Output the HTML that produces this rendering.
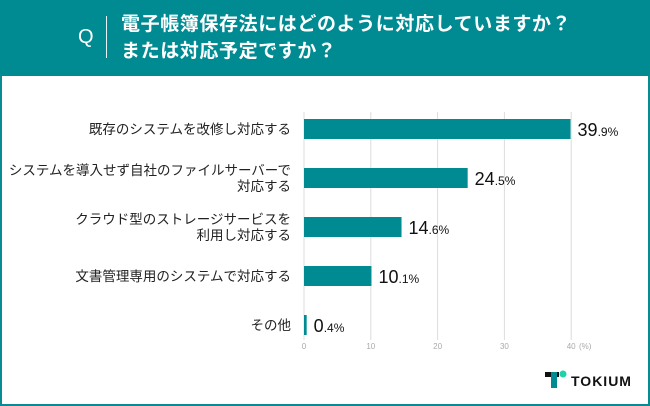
<!DOCTYPE html>
<html><head><meta charset="utf-8">
<style>
html,body{margin:0;padding:0;}
body{width:650px;height:406px;overflow:hidden;background:#fff;font-family:"Liberation Sans","Noto Sans CJK JP",sans-serif;}
#frame{position:absolute;left:0;top:0;width:646px;height:402px;border:2px solid #0a8a92;background:#fff;}
#header{position:absolute;left:0;top:0;width:650px;height:76px;background:#008b93;}
#title{position:absolute;left:121px;top:11px;color:#fff;font-size:19px;font-weight:bold;line-height:27px;letter-spacing:0.6px;}
#qmark{position:absolute;left:78px;top:26px;color:#fff;font-size:20px;}
#qline{position:absolute;left:106px;top:16px;width:1px;height:42px;background:#e6f3f4;}
svg text{font-family:"Liberation Sans","Noto Sans CJK JP",sans-serif;}
</style></head><body>
<div id="frame"></div>
<div id="header">
<div id="qmark">Q</div>
<div id="qline"></div>
<div id="title">電子帳簿保存法にはどのように対応していますか？<br>または対応予定ですか？</div>
</div>
<svg id="chart" width="650" height="406" style="position:absolute;left:0;top:0"></svg>
<script>
const categories=[["既存のシステムを改修し対応する"],["システムを導入せず自社のファイルサーバーで","対応する"],["クラウド型のストレージサービスを","利用し対応する"],["文書管理専用のシステムで対応する"],["その他"]];
const values=[39.9,24.5,14.6,10.1,0.4];
const ticks=[0,10,20,30,40];
const NS="http://www.w3.org/2000/svg";
const svg=document.getElementById('chart');
const x0=304,xs=6.68;
function xPos(v){return x0+v*xs;}
function yPos(i){return 129+i*49;}
function mk(t,a,txt){const e=document.createElementNS(NS,t);for(const k in a)e.setAttribute(k,a[k]);if(txt!==undefined)e.textContent=txt;svg.appendChild(e);return e;}
ticks.forEach(t=>{
 const g=mk('line',{x1:xPos(t),x2:xPos(t),y1:112,y2:340,stroke:'#dcdcdc','stroke-width':1});
 
 
 const l=mk('text',{x:xPos(t),y:349,'font-size':8,fill:'#aaa','text-anchor':'middle'},String(t));
 
 
});
const u=mk('text',{x:xPos(40)+14,y:349,'font-size':8,fill:'#aaa','text-anchor':'middle'},'(%)');


values.forEach((v,i)=>{
 const yc=yPos(i);
 const b=mk('rect',{x:x0,y:yc-10,width:Math.max(v*xs,2),height:20,fill:'#008b93'});
 
 
 const parts=v.toFixed(1).split('.');
 const t=mk('text',{x:xPos(v)+7,y:yc+7,'font-size':18,fill:'#111'});
 
 
 const s1=document.createElementNS(NS,'tspan');s1.textContent=parts[0];t.appendChild(s1);
 const s2=document.createElementNS(NS,'tspan');s2.setAttribute('font-size','12');s2.textContent='.'+parts[1]+'%';t.appendChild(s2);
 const lines=categories[i];
 lines.forEach((ln,j)=>{
  const yy=yc+5+(j-(lines.length-1)/2)*16;
  const c=mk('text',{x:291,y:yy,'font-size':13.5,fill:'#222','text-anchor':'end'},ln);
  
  
 });
});
const lg=mk('g',{});


lg.innerHTML='<rect x="545" y="372" width="14" height="5" fill="#111"/><rect x="551" y="372" width="6" height="16" fill="#008b93"/><circle cx="563" cy="374" r="3.5" fill="#1dd3a7"/><text x="571" y="386" font-size="14" font-weight="bold" fill="#111" letter-spacing="1">TOKIUM</text>';
</script>
</body></html>
